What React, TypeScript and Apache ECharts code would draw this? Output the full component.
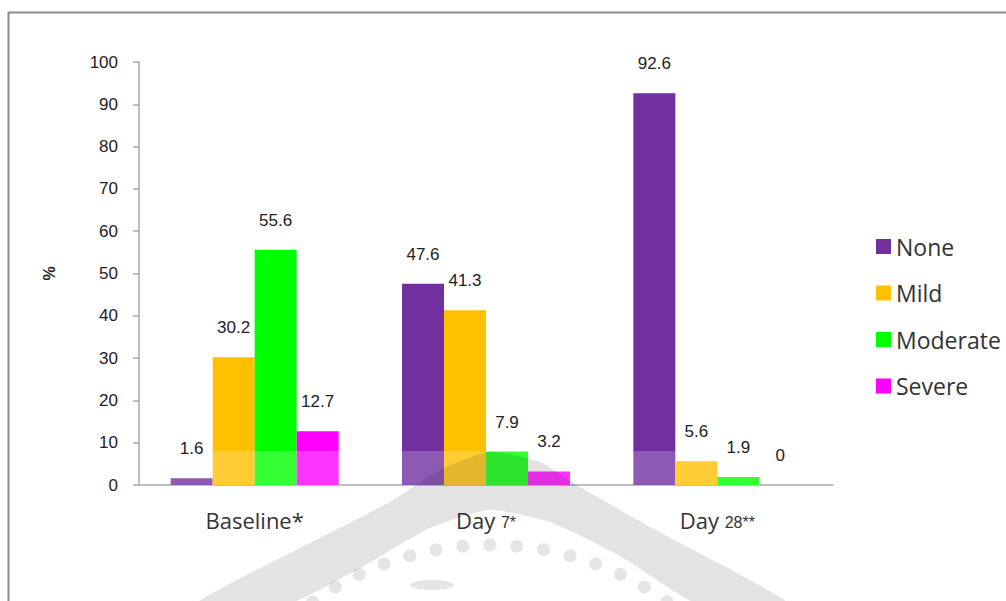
import React, { useEffect, useRef } from "react";
import * as echarts from "echarts";

const categories = ["Baseline*", "Day 7*", "Day 28**"];
const seriesNames = ["None", "Mild", "Moderate", "Severe"];
const noneVals = [1.6, 47.6, 92.6];
const mildVals = [30.2, 41.3, 5.6];
const moderateVals = [55.6, 7.9, 1.9];
const severeVals = [12.7, 3.2, 0];
const yMin = 0;
const yMax = 100;
const yInterval = 10;
const bandTop = 8;

const colors = ["#7030A0", "#FFC000", "#00FF00", "#FF00FF"];
const lightColors = ["#8D59B3", "#FFCD33", "#33FF33", "#FF33FF"];

function barData(vals: number[], idx: number) {
  return vals.map((v) => {
    const s = v > bandTop ? 1 - bandTop / v : 0;
    return {
      value: v,
      itemStyle: {
        color: new echarts.graphic.LinearGradient(0, 0, 0, 1, [
          { offset: 0, color: s > 0 ? colors[idx] : lightColors[idx] },
          { offset: s, color: s > 0 ? colors[idx] : lightColors[idx] },
          { offset: s, color: lightColors[idx] },
          { offset: 1, color: lightColors[idx] },
        ]),
      },
    };
  });
}

export default function App() {
  const ref = useRef<HTMLDivElement>(null);
  useEffect(() => {
    if (!ref.current) return;
    const chart = echarts.init(ref.current, null, { renderer: "svg" });
    const allVals = [noneVals, mildVals, moderateVals, severeVals];
    const labelFont = "'Liberation Sans', Arial, sans-serif";
    const uiFont = "'Open Sans', 'Noto Sans', sans-serif";

    // watermark dots (decoration)
    const dots: any[] = [];
    for (let a = -0.62; a <= 0.63; a += 0.0885) {
      dots.push({
        type: "circle",
        shape: { cx: 490 + 305 * Math.sin(a), cy: 850 - 305 * Math.cos(a), r: 6.5 },
        style: { fill: "rgba(0,0,0,0.1)" },
        z: 10,
        silent: true,
      });
    }

    chart.setOption({
      animation: false,
      backgroundColor: "#ffffff",
      grid: { left: 139, top: 62, right: 173, bottom: 116 },
      legend: {
        orient: "vertical",
        left: 876,
        top: 235,
        padding: 0,
        itemWidth: 15,
        itemHeight: 15,
        itemGap: 23.5,
        icon: "rect",
        data: seriesNames,
        textStyle: { fontFamily: uiFont, fontSize: 23, color: "#333", lineHeight: 23 },
      },
      xAxis: {
        type: "category",
        data: categories,
        axisLine: { show: true, lineStyle: { color: "#aaaaaa", width: 1.5 } },
        axisTick: { show: false },
        axisLabel: {
          margin: 22,
          formatter: (v: string) =>
            v.startsWith("Day ") ? `{a|Day }{s|${v.slice(4)}}` : `{a|${v}}`,
          rich: {
            a: { fontFamily: uiFont, fontSize: 22, color: "#333", lineHeight: 26 },
            s: { fontFamily: labelFont, fontSize: 16, color: "#333", lineHeight: 26, padding: [4, 0, 0, 0] },
          },
        },
      },
      yAxis: {
        type: "value",
        min: yMin,
        max: yMax,
        interval: yInterval,
        name: "%",
        nameLocation: "middle",
        nameGap: 82,
        nameRotate: 90,
        nameTextStyle: { fontFamily: labelFont, fontSize: 16, fontWeight: "bold", color: "#222" },
        axisLine: { show: true, lineStyle: { color: "#aaaaaa", width: 1.5 } },
        axisTick: { show: true, inside: false, length: 6, lineStyle: { color: "#aaaaaa", width: 1.5 } },
        splitLine: { show: false },
        axisLabel: { margin: 21, fontFamily: labelFont, fontSize: 17, color: "#222" },
      },
      series: seriesNames.map((name, i) => ({
        name,
        type: "bar",
        barWidth: 42,
        barGap: "0%",
        color: colors[i],
        data: barData(allVals[i], i),
        label: {
          show: true,
          position: "top",
          distance: 21,
          fontFamily: labelFont,
          fontSize: 17,
          color: "#222",
        },
      })),
      graphic: [
        {
          type: "rect",
          shape: { x: 8.5, y: 12.5, width: 1200, height: 800 },
          style: { fill: "none", stroke: "#8c8c8c", lineWidth: 2 },
          silent: true,
          z: 0,
        },
        {
          type: "polygon",
          shape: {
            points: [
              [195, 605], [300, 548], [390, 502], [440, 470], [490, 452], [540, 462],
              [575, 484], [650, 527], [790, 605],
              [700, 605], [620, 556], [550, 522], [490, 510], [430, 528], [360, 568], [285, 605],
            ],
            smooth: 0.2,
          },
          style: { fill: "rgba(0,0,0,0.11)" },
          silent: true,
          z: 10,
        },
        {
          type: "ellipse",
          shape: { cx: 432, cy: 585, rx: 22, ry: 5 },
          style: { fill: "rgba(0,0,0,0.1)" },
          silent: true,
          z: 10,
        },
        ...dots,
      ],
    });
    return () => chart.dispose();
  }, []);
  return (
    <div
      ref={ref}
      style={{ position: "absolute", left: 0, top: 0, width: 1006, height: 601 }}
    />
  );
}
